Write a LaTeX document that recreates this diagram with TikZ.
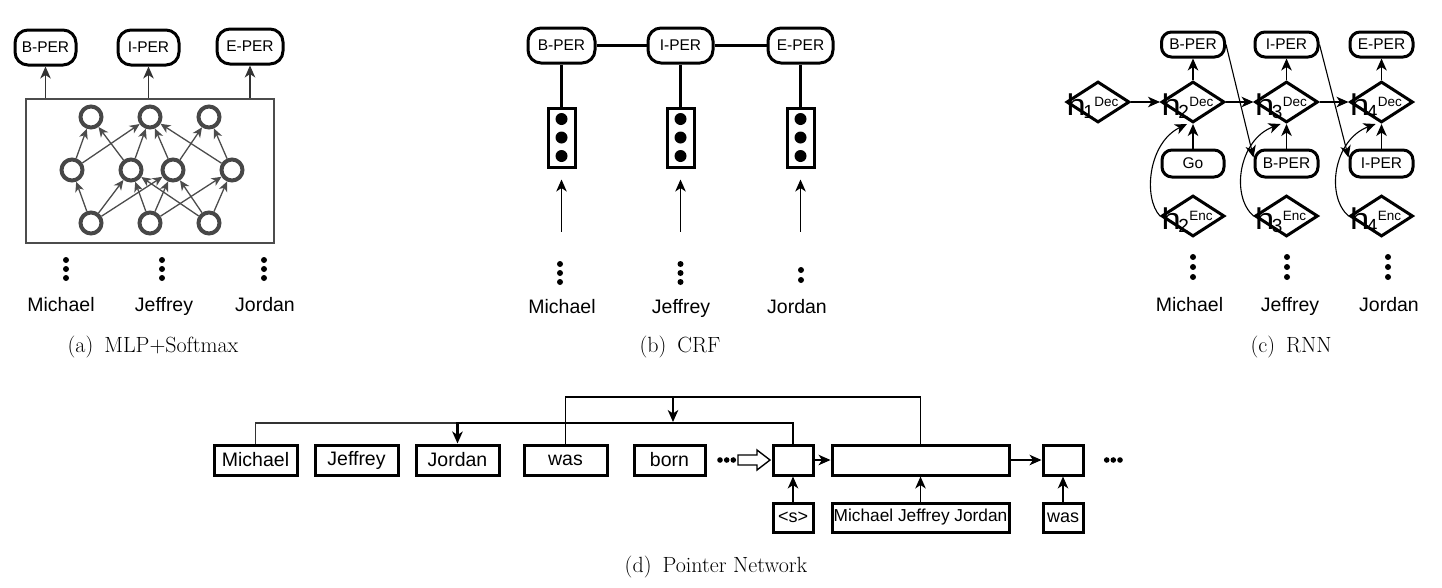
\documentclass[tikz,border=0pt]{standalone}
\usepackage{fontspec}
\usepackage{graphicx}
\newfontfamily\arial{Liberation Sans}
\usetikzlibrary{shapes.geometric,arrows.meta,calc}
\newcommand\fs[1]{\fontsize{#1}{#1}\selectfont}
\newcommand\hlab[2]{{\fs{30}\scalebox{1.15}[1]{h}}\kern-2.5pt\raisebox{-3pt}{\fs{19}#1}\kern0.5pt\raisebox{9pt}{\fs{13.5}#2}}
\begin{document}
\begin{tikzpicture}[x=1pt,y=-1pt,
 lbl/.style={draw, line width=3pt, rounded corners=13pt, inner sep=0pt, font=\arial\fs{15.5}},
 nrn/.style={circle, draw=black!72, line width=4pt, minimum size=21pt, inner sep=0pt},
 marr/.style={draw=black!70, line width=1.3pt, -{Stealth[length=10pt,width=9pt,inset=3pt]}},
 arr/.style={line width=1.4pt, -{Stealth[length=12pt,width=10.5pt,inset=3.5pt]}},
 word/.style={anchor=base, font=\arial\fs{19.5}, inner sep=0pt},
 capt/.style={anchor=base, font=\fs{22}, inner sep=0pt},
 crfbox/.style={draw, line width=3pt, minimum width=27pt, minimum height=59pt, inner sep=0pt},
 dia/.style={diamond, draw, line width=3pt, minimum width=63pt, minimum height=41pt, inner sep=0pt},
 hl/.style={anchor=base west, inner sep=0pt, font=\arial},
 pbox/.style={draw, line width=3pt, minimum height=30pt, inner sep=0pt, font=\arial\fs{19.5}},
 sbox/.style={draw, line width=3pt, minimum height=29pt, inner sep=0pt, font=\arial\fs{18}},
]
\useasboundingbox (0,0) rectangle (1442,587);

% ---------------- (a) MLP+Softmax ----------------
\node[lbl, minimum width=61pt, minimum height=35pt] (aB) at (45.5,47.5) {B-PER};
\node[lbl, minimum width=61pt, minimum height=35pt] (aI) at (148.5,47.5) {I-PER};
\node[lbl, minimum width=66pt, minimum height=35pt] (aE) at (250,46.5) {E-PER};
\node[draw=black!70, line width=1.8pt, minimum width=248pt, minimum height=144pt, inner sep=0pt] (abox) at (150,171) {};
\foreach \n in {aB,aI,aE} \draw[arr, draw=black!80] (\n.south |- abox.north) -- (\n.south);
\node[nrn] (t1) at (91,117) {};
\node[nrn] (t2) at (150,117) {};
\node[nrn] (t3) at (209,117) {};
\node[nrn] (m1) at (72,170) {};
\node[nrn] (m2) at (131,170) {};
\node[nrn] (m3) at (173,170) {};
\node[nrn] (m4) at (232,170) {};
\node[nrn] (b1) at (91,223) {};
\node[nrn] (b2) at (150,223) {};
\node[nrn] (b3) at (209,223) {};
\foreach \s/\t in {m1/t1,m2/t1,m1/t2,m2/t2,m3/t2,m4/t2,m3/t3,m4/t3,
                   b1/m1,b1/m2,b1/m3,b2/m2,b2/m3,b2/m4,b3/m2,b3/m3,b3/m4}
  \draw[marr] (\s) -- (\t);
\foreach \x in {66,162,264} \foreach \y in {260,269,278} \fill (\x,\y) circle (3);
\node[word] (aw1) at (61,311) {Michael};
\node[word] (aw2) at (164,311) {Jeffrey};
\node[word] (aw3) at (265,311) {Jordan};
\node[capt] (capa) at (153,352) {(a)\enspace MLP+Softmax};

% ---------------- (b) CRF ----------------
\node[lbl, minimum width=67pt, minimum height=35pt] (bB) at (561.5,45.5) {B-PER};
\node[lbl, minimum width=65pt, minimum height=35pt] (bI) at (680.5,45.5) {I-PER};
\node[lbl, minimum width=65pt, minimum height=35pt] (bE) at (800.5,45.5) {E-PER};
\draw[line width=2.8pt] (bB.east) -- (bI.west);
\draw[line width=2.8pt] (bI.east) -- (bE.west);
\node[crfbox] (r1) at (561.5,137.5) {};
\node[crfbox] (r2) at (680.5,137.5) {};
\node[crfbox] (r3) at (800.5,137.5) {};
\foreach \n/\r in {bB/r1,bI/r2,bE/r3} {
  \draw[line width=2.8pt] (\n.south) -- (\r.north);
  \foreach \y in {-18.5,0,18.5} \fill ($(\r.center)+(0,\y)$) circle (6);
  \coordinate (\r s) at ($(\r.south)+(0,63)$);
  \coordinate (\r e) at ($(\r.south)+(0,11)$);
  \draw[arr, line width=1.1pt] (\r s) -- (\r e);
}
\foreach \x in {560,680.5} \foreach \y in {264,273,282} \fill (\x,\y) circle (3);
\foreach \y in {270,280} \fill (801,\y) circle (3);
\node[word] (bw1) at (562,313) {Michael};
\node[word] (bw2) at (681,313) {Jeffrey};
\node[word] (bw3) at (797,313) {Jordan};
\node[capt] (capb) at (680,352) {(b)\enspace CRF};

% ---------------- (c) RNN ----------------
\node[lbl, rounded corners=10pt, minimum width=63pt, minimum height=25pt] (cB) at (1193,44.5) {B-PER};
\node[lbl, rounded corners=10pt, minimum width=63pt, minimum height=25pt] (cI) at (1286.5,44.5) {I-PER};
\node[lbl, rounded corners=10pt, minimum width=63pt, minimum height=25pt] (cE) at (1381.5,44.5) {E-PER};
\node[dia] (d1) at (1098,102) {};
\node[dia] (d2) at (1193,102) {};
\node[dia] (d3) at (1286.5,102) {};
\node[dia] (d4) at (1381.5,102) {};
\node[hl] (d1t) at ($(d1.west)+(1.5,13)$) {\hlab{1}{Dec}};
\node[hl] (d2t) at ($(d2.west)+(1.5,13)$) {\hlab{2}{Dec}};
\node[hl] (d3t) at ($(d3.west)+(1.5,13)$) {\hlab{3}{Dec}};
\node[hl] (d4t) at ($(d4.west)+(1.5,13)$) {\hlab{4}{Dec}};
\node[lbl, rounded corners=10pt, minimum width=62pt, minimum height=27pt] (cG) at (1193,163.5) {Go};
\node[lbl, rounded corners=10pt, minimum width=63pt, minimum height=27pt] (cB2) at (1286.5,163.5) {B-PER};
\node[lbl, rounded corners=10pt, minimum width=63pt, minimum height=27pt] (cI2) at (1381.5,163.5) {I-PER};
\node[dia] (e2) at (1193,216) {};
\node[dia] (e3) at (1286.5,216) {};
\node[dia] (e4) at (1381.5,216) {};
\node[hl] (e2t) at ($(e2.west)+(1.5,13)$) {\hlab{2}{Enc}};
\node[hl] (e3t) at ($(e3.west)+(1.5,13)$) {\hlab{3}{Enc}};
\node[hl] (e4t) at ($(e4.west)+(1.5,13)$) {\hlab{4}{Enc}};
\draw[arr] (d2.north) -- (cB.south);
\draw[arr] (d3.north) -- (cI.south);
\draw[arr] (d4.north) -- (cE.south);
\draw[arr] (d1.east) -- (d2.west);
\draw[arr] (d2.east) -- (d3.west);
\draw[arr] (d3.east) -- (d4.west);
\draw[arr] (cG.north) -- (d2.south);
\draw[arr] (cB2.north) -- (d3.south);
\draw[arr] (cI2.north) -- (d4.south);
\draw[arr, line width=1.1pt] (cB.east) -- ([yshift=6pt]cB2.west);
\draw[arr, line width=1.1pt] (cI.east) -- ([yshift=6pt]cI2.west);
\draw[arr, line width=1.1pt] (e2.west) .. controls ($(e2.west)+(-17,-18)$) and ($(e2.west)+(-12,-73)$) .. ([xshift=-6pt]d2.south);
\draw[arr, line width=1.1pt] (e3.west) .. controls ($(e3.west)+(-23,-20)$) and ($(e3.west)+(-15,-76)$) .. ([xshift=-6pt]d3.south);
\draw[arr, line width=1.1pt] (e4.west) .. controls ($(e4.west)+(-23,-20)$) and ($(e4.west)+(-15,-76)$) .. ([xshift=-6pt]d4.south);
\foreach \x in {1193,1287,1388} \foreach \y in {257,267,277} \fill (\x,\y) circle (3);
\node[word] (cw1) at (1189.5,311) {Michael};
\node[word] (cw2) at (1290,311) {Jeffrey};
\node[word] (cw3) at (1389,311) {Jordan};
\node[capt] (capc) at (1291,352) {(c)\enspace RNN};

% ---------------- (d) Pointer Network ----------------
\node[pbox, minimum width=83pt] (pM) at (255.5,460) {Michael};
\node[pbox, minimum width=83pt] (pJ) at (356.5,460) {Jeffrey};
\node[pbox, minimum width=83pt] (pJo) at (457.5,460) {Jordan};
\node[pbox, minimum width=83pt] (pW) at (565.5,460) {was};
\node[pbox, minimum width=71pt] (pB) at (669.5,460) {born};
\node[pbox, minimum width=40pt] (pb1) at (793,460) {};
\node[pbox, minimum width=177pt] (pbig) at (920.5,460) {};
\node[pbox, minimum width=40pt] (pb2) at (1063,460) {};
\node[sbox, minimum width=40pt] (ps) at (793,517.5) {<s>};
\node[sbox, minimum width=177pt, font=\arial\fs{17.3}] (pmjj) at (920.5,517.5) {Michael Jeffrey Jordan};
\node[sbox, minimum width=40pt] (pw2) at (1063,517.5) {was};
\coordinate (yl1) at (0,423);
\coordinate (yl2) at (0,397);
\coordinate (p2) at (673,397);
\coordinate (p1) at (673,422);
\draw[line width=1.1pt, draw=black!80] (pM.north) |- (pJo.north |- yl1);
\draw[arr, line width=2.2pt] (pb1.north) |- (pJo.north |- yl1) -- (pJo.north);
\draw[line width=1.4pt] (pbig.north) |- (pW.north |- yl2) -- (pW.north);
\draw[arr] (p2) -- (p1);
\draw[arr] (pb1.east) -- (pbig.west);
\draw[arr] (pbig.east) -- (pb2.west);
\draw[arr] (ps.north) -- (pb1.south);
\draw[arr] (pmjj.north) -- (pbig.south);
\draw[arr] (pw2.north) -- (pb2.south);
\draw[line width=1.4pt] (738,455) -- (757,455) -- (757,450) -- (770,460) -- (757,470) -- (757,465) -- (738,465) -- cycle;
\foreach \x in {720,726.7,733.3} \fill (\x,460) circle (2.8);
\foreach \x in {1106.7,1113.3,1120} \fill (\x,460) circle (2.8);
\node[capt] (capd) at (716,572.5) {(d)\enspace Pointer Network};
\end{tikzpicture}
\end{document}
